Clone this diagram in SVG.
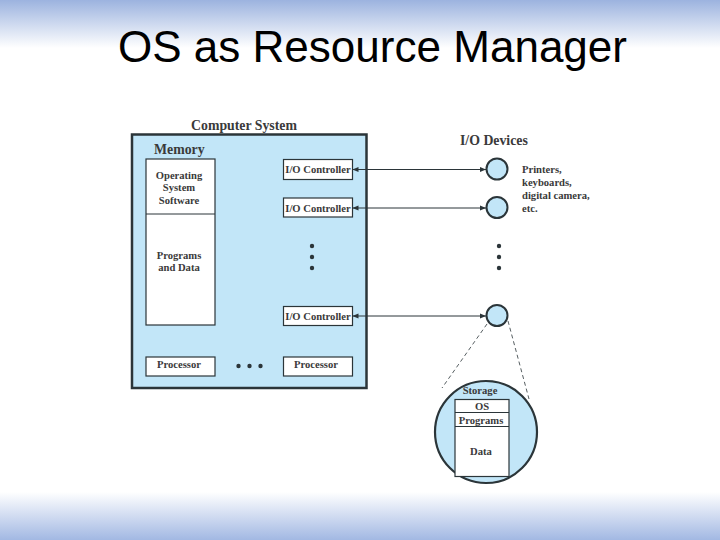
<svg xmlns="http://www.w3.org/2000/svg" width="720" height="540" viewBox="0 0 720 540">
<defs>
<linearGradient id="gTop" x1="0" y1="0" x2="0" y2="1">
<stop offset="0" stop-color="#9cb3df"/>
<stop offset="1" stop-color="#ffffff"/>
</linearGradient>
<linearGradient id="gBot" x1="0" y1="0" x2="0" y2="1">
<stop offset="0" stop-color="#ffffff"/>
<stop offset="1" stop-color="#a2b8e3"/>
</linearGradient>
<marker id="ah" viewBox="0 0 10 10" refX="10" refY="5" markerWidth="6" markerHeight="6" orient="auto-start-reverse" markerUnits="userSpaceOnUse">
<path d="M0,1 L10,5 L0,9 Z" fill="#2b3539"/>
</marker>
<style>
.t{font-family:"Liberation Serif","DejaVu Serif",serif;font-weight:bold;fill:#3a3a3a;}
.h{font-size:13.8px;}
.s{font-size:10.6px;}
.box{fill:#ffffff;stroke:#2b3539;stroke-width:1.2;}
.blue{fill:#c2e6f8;stroke:#2b3539;}
.dot{fill:#2b3539;}
.con{stroke:#2b3539;stroke-width:1;fill:none;}
.dash{stroke:#2b3539;stroke-width:0.8;fill:none;stroke-dasharray:4,3;}
</style>
</defs>
<rect x="0" y="0" width="720" height="540" fill="#ffffff"/>
<rect x="0" y="0" width="720" height="48" fill="url(#gTop)"/>
<rect x="0" y="492" width="720" height="48" fill="url(#gBot)"/>
<text x="372.5" y="62" text-anchor="middle" font-family="Liberation Sans, Arial, sans-serif" font-size="45" textLength="509" lengthAdjust="spacingAndGlyphs" fill="#000">OS as Resource Manager</text>

<g id="computer-system">
<rect class="blue" x="132" y="134.5" width="234.5" height="253.5" stroke-width="2.5"/>
<text class="t h" x="244" y="130" text-anchor="middle">Computer System</text>
<text class="t h" x="154" y="154">Memory</text>
</g>
<g id="memory">
<rect class="box" x="146" y="159" width="69" height="166"/>
<line x1="146" y1="214" x2="215" y2="214" stroke="#2b3539" stroke-width="1"/>
<text class="t s" x="179" y="179" text-anchor="middle">Operating</text>
<text class="t s" x="179" y="191" text-anchor="middle">System</text>
<text class="t s" x="179" y="204" text-anchor="middle">Software</text>
<text class="t s" x="179" y="259" text-anchor="middle">Programs</text>
<text class="t s" x="179" y="271" text-anchor="middle">and Data</text>
</g>
<g id="io-controller-1">
<rect class="box" x="283.5" y="159.5" width="69" height="20"/>
<text class="t s" x="318" y="173" text-anchor="middle">I/O Controller</text>
</g>
<g id="io-controller-2">
<rect class="box" x="283.5" y="198" width="69" height="19"/>
<text class="t s" x="318" y="211.5" text-anchor="middle">I/O Controller</text>
</g>
<g id="io-controller-3">
<rect class="box" x="283.5" y="306.5" width="69" height="19"/>
<text class="t s" x="318" y="320" text-anchor="middle">I/O Controller</text>
</g>
<g id="controller-dots">
<circle class="dot" cx="312" cy="246" r="2.2"/>
<circle class="dot" cx="312" cy="257" r="2.2"/>
<circle class="dot" cx="312" cy="268" r="2.2"/>
</g>
<g id="processor-1">
<rect class="box" x="146" y="357" width="69" height="19"/>
<text class="t s" x="179" y="368" text-anchor="middle">Processor</text>
</g>
<g id="processor-2">
<rect class="box" x="283.5" y="357" width="69" height="19"/>
<text class="t s" x="316" y="368" text-anchor="middle">Processor</text>
</g>
<g id="processor-dots">
<circle class="dot" cx="238.5" cy="366" r="2.2"/>
<circle class="dot" cx="249.5" cy="366" r="2.2"/>
<circle class="dot" cx="260.5" cy="366" r="2.2"/>
</g>

<text class="t h" x="460" y="145">I/O Devices</text>
<g id="device-1"><circle class="blue" cx="497" cy="169" r="10.5" stroke-width="2"/></g>
<g id="device-2"><circle class="blue" cx="497" cy="207.5" r="10.5" stroke-width="2"/></g>
<g id="device-3"><circle class="blue" cx="497" cy="315.5" r="10.5" stroke-width="2"/></g>
<g id="device-label">
<text class="t s" x="522" y="173">Printers,</text>
<text class="t s" x="522" y="186">keyboards,</text>
<text class="t s" x="522" y="199">digital camera,</text>
<text class="t s" x="522" y="212">etc.</text>
</g>
<g id="device-dots">
<circle class="dot" cx="499" cy="246" r="2.2"/>
<circle class="dot" cx="499" cy="257" r="2.2"/>
<circle class="dot" cx="499" cy="268" r="2.2"/>
</g>
<g id="storage">
<circle class="blue" cx="486" cy="432" r="51" stroke-width="2.2"/>
<text class="t s" x="480" y="394" text-anchor="middle">Storage</text>
<rect class="box" x="455" y="399.5" width="54" height="77"/>
<line x1="455" y1="412.5" x2="509" y2="412.5" stroke="#2b3539" stroke-width="1.2"/>
<line x1="455" y1="426.5" x2="509" y2="426.5" stroke="#2b3539" stroke-width="1.2"/>
<text class="t s" x="482" y="410" text-anchor="middle">OS</text>
<text class="t s" x="481" y="424" text-anchor="middle">Programs</text>
<text class="t s" x="481" y="455" text-anchor="middle">Data</text>
</g>
<g id="connectors">
<line class="con" x1="352.5" y1="169.5" x2="486" y2="169.5" marker-start="url(#ah)" marker-end="url(#ah)"/>
<line class="con" x1="352.5" y1="208" x2="486" y2="208" marker-start="url(#ah)" marker-end="url(#ah)"/>
<line class="con" x1="352.5" y1="316" x2="486" y2="316" marker-start="url(#ah)" marker-end="url(#ah)"/>
<line class="dash" x1="487" y1="324" x2="442" y2="388"/>
<line class="dash" x1="508" y1="321" x2="529" y2="399"/>
</g>
</svg>
